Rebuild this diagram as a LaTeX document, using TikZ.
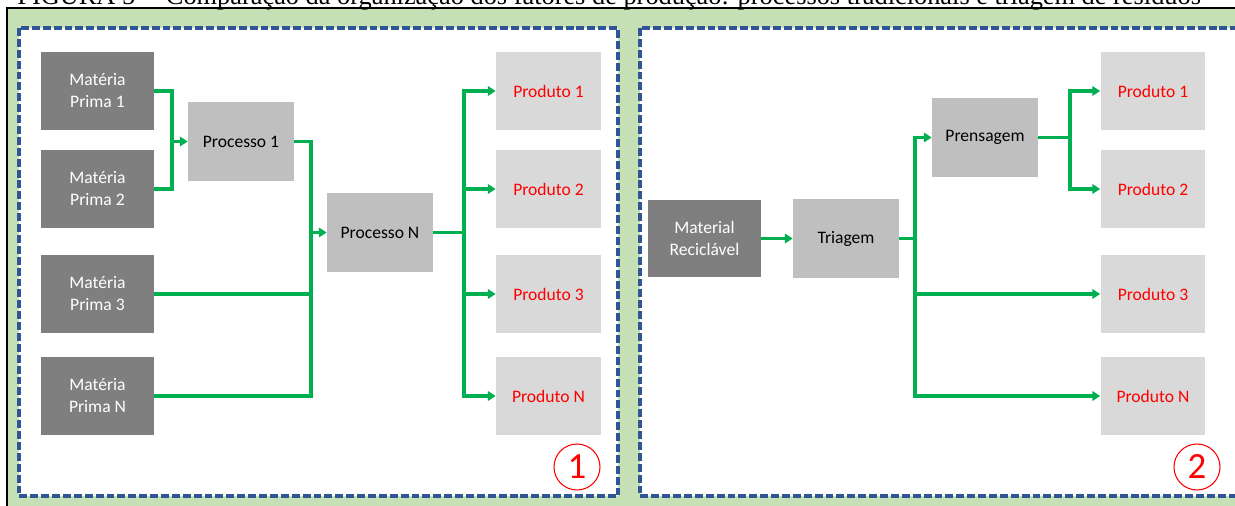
\documentclass[tikz,border=0pt]{standalone}
\usepackage{fontspec}
\setmainfont{Carlito}
\newfontfamily\titlefont{Liberation Serif}
\usetikzlibrary{arrows.meta}

\definecolor{bggreen}{HTML}{C5E0B4}
\definecolor{frameblue}{HTML}{2F5597}
\definecolor{linegreen}{HTML}{00B050}
\definecolor{darkbox}{HTML}{7F7F7F}
\definecolor{midbox}{HTML}{BFBFBF}
\definecolor{lightbox}{HTML}{D9D9D9}

\begin{document}
\begin{tikzpicture}[x=0.02cm, y=-0.02cm,
    box/.style={inner sep=0pt, align=center, font=\fontsize{10}{12.5}\selectfont},
    raw/.style={box, fill=darkbox, text=white, minimum width=2.26cm, minimum height=1.56cm},
    proc/.style={box, fill=midbox, minimum width=2.12cm, minimum height=1.58cm},
    prod/.style={box, fill=lightbox, text=red, minimum width=2.1cm, minimum height=1.56cm},
    wire/.style={draw=linegreen, line width=2pt},
    feed/.style={wire, -{Triangle[length=4.5pt,width=5.5pt]}},
    frame/.style={draw=frameblue, line width=2pt, dash pattern=on 4.5pt off 1.7pt},
    numbr/.style={circle, draw=red, text=red, line width=0.6pt, minimum size=0.92cm, inner sep=0pt, font=\fontsize{21}{24}\selectfont}]
  \useasboundingbox (0,0) rectangle (1235,506);

  % page background and caption
  \fill[bggreen] (7,8) rectangle (1240,510);
  \draw[line width=0.6pt] (7,510) -- (7,8) -- (1240,8);
  \node[anchor=base west, inner sep=0pt, font=\titlefont\fontsize{15}{17}\selectfont] (title) at (17,5)
    {FIGURA 5 -- Comparação da organização dos fatores de produção: processos tradicionais e triagem de resíduos};

  % the two panels
  \filldraw[fill=white, frame] (19,28) rectangle (618,496);
  \filldraw[fill=white, frame] (640,28) rectangle (1250,496);

  % panel 1: traditional processes
  \node[raw] (mp1) at (97.5,91) {Matéria\\Prima 1};
  \node[raw] (mp2) at (97.5,189) {Matéria\\Prima 2};
  \node[raw] (mp3) at (97.5,294) {Matéria\\Prima 3};
  \node[raw] (mpn) at (97.5,396) {Matéria\\Prima N};
  \node[proc] (p1) at (241,141.5) {Processo 1};
  \node[proc] (pn) at (380,232.5) {Processo N};
  \node[prod] (a1) at (548.5,91) {Produto 1};
  \node[prod] (a2) at (548.5,189) {Produto 2};
  \node[prod] (a3) at (548.5,294) {Produto 3};
  \node[prod] (an) at (548.5,396) {Produto N};

  \coordinate (j1) at (172,141.5);
  \coordinate (j2) at (311,232.5);
  \coordinate (j3) at (464,232.5);
  \draw[wire] (mp1.east) -| (j1) |- (mp2.east);
  \draw[feed] (j1) -- (p1.west);
  \draw[wire] (p1.east) -| (j2) |- (mpn.east);
  \draw[wire] (mp3.east) -| (j2);
  \draw[feed] (j2) -- (pn.west);
  \draw[wire] (pn.east) -- (j3);
  \foreach \p in {a1,a2,a3,an}
    \draw[feed] (j3) |- (\p.west);

  \node[numbr] (n1) at (577,467) {1};

  % panel 2: sorting of waste
  \node[raw] (mr) at (704.5,238.5) {Material\\Reciclável};
  \node[proc] (tr) at (846,238.5) {Triagem};
  \node[proc] (pr) at (985,137.5) {Prensagem};
  \node[prod] (b1) at (1153,91) {Produto 1};
  \node[prod] (b2) at (1153,189) {Produto 2};
  \node[prod] (b3) at (1153,294) {Produto 3};
  \node[prod] (bn) at (1153,396) {Produto N};

  \coordinate (k1) at (915,238.5);
  \coordinate (k2) at (1070,137.5);
  \draw[feed] (mr.east) -- (tr.west);
  \draw[wire] (tr.east) -- (k1);
  \draw[feed] (k1) |- (pr.west);
  \draw[feed] (k1) |- (b3.west);
  \draw[feed] (k1) |- (bn.west);
  \draw[wire] (pr.east) -- (k2);
  \draw[feed] (k2) |- (b1.west);
  \draw[feed] (k2) |- (b2.west);

  \node[numbr] (n2) at (1197,467) {2};
\end{tikzpicture}
\end{document}
